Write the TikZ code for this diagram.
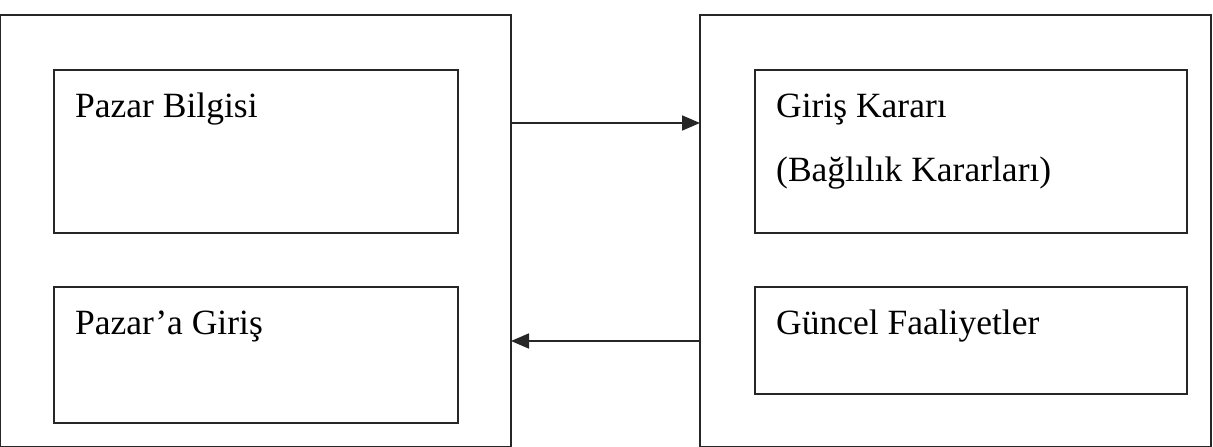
\documentclass[tikz,border=0pt]{standalone}
\usepackage{fontspec}
\setmainfont{Liberation Serif}
\usetikzlibrary{arrows.meta}
\begin{document}
\begin{tikzpicture}[x=1pt,y=-1pt,
  box/.style={draw=black!85,line width=1.8pt},
  lbl/.style={anchor=base west,inner sep=0pt,font=\fontsize{35.5}{40}\selectfont},
  arr/.style={draw=black!85,line width=1.8pt,-{Triangle[length=18pt,width=15pt]}}]
\useasboundingbox (0,0) rectangle (1213,447);
\draw[box] (0.5,15) rectangle (511,446.5);
\draw[box] (700,15) rectangle (1211,446.5);
\node[box,minimum width=404pt,minimum height=163pt,anchor=north west,inner sep=0pt] (pb) at (53,69) {};
\node[box,minimum width=404pt,minimum height=136pt,anchor=north west,inner sep=0pt] (pg) at (53,286) {};
\node[box,minimum width=432pt,minimum height=163pt,anchor=north west,inner sep=0pt] (gk) at (754,69) {};
\node[box,minimum width=432pt,minimum height=107pt,anchor=north west,inner sep=0pt] (gf) at (754,286) {};
\node[lbl] (t1) at (75,117) {Pazar Bilgisi};
\node[lbl] (t2) at (75,334) {Pazar’a Giriş};
\node[lbl] (t3) at (776,117) {Giriş Kararı};
\node[lbl] (t4) at (776,181) {(Bağlılık Kararları)};
\node[lbl] (t5) at (776,334) {Güncel Faaliyetler};
\coordinate (a1s) at (511,123);
\coordinate (a1e) at (700,123);
\coordinate (a2s) at (700,341);
\coordinate (a2e) at (511,341);
\draw[arr] (a1s) -- (a1e);
\draw[arr] (a2s) -- (a2e);
\end{tikzpicture}
\end{document}
